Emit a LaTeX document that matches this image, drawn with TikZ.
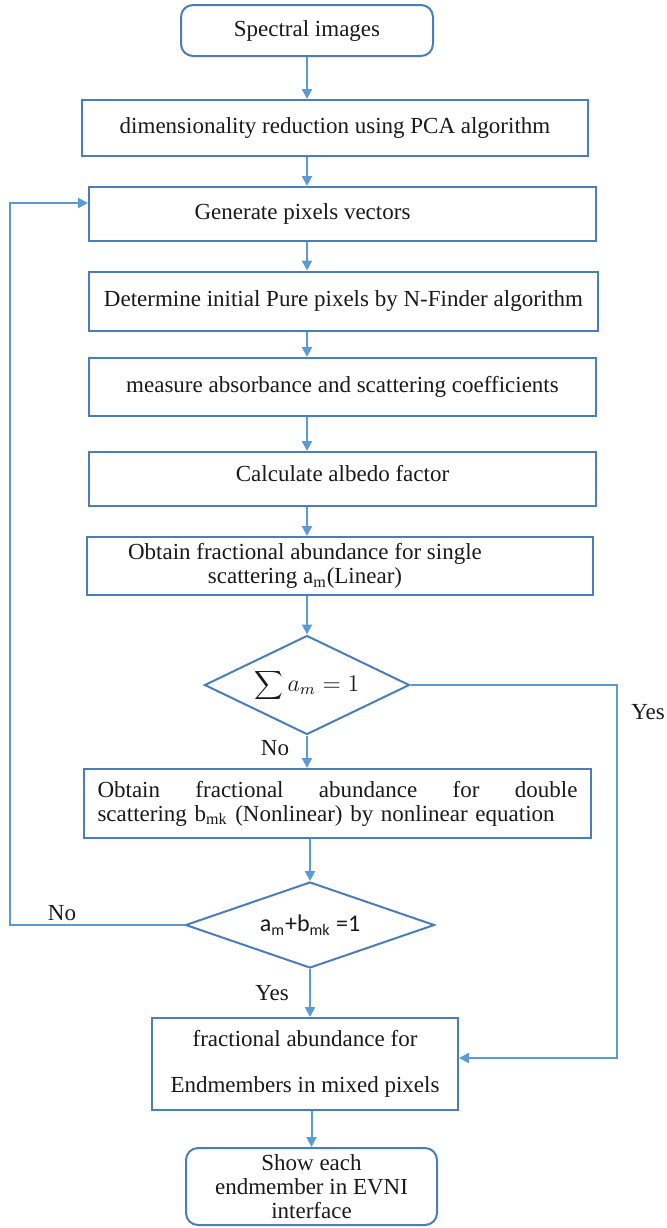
\documentclass[tikz,border=0pt]{standalone}
\usepackage{fontspec}
\setmainfont{Liberation Serif}
\newfontfamily\timesfont{Liberation Serif}
\newfontfamily\calibri{Carlito}
\usetikzlibrary{arrows.meta,shapes.geometric}
\definecolor{FlowLine}{HTML}{5B9BD5}
\definecolor{FlowEdge}{HTML}{4A7EBB}
\definecolor{FlowInk}{HTML}{1A1A1A}
\tikzset{
  every node/.style={font=\timesfont\fontsize{11.5}{12}\selectfont, text=FlowInk},
  procbox/.style={draw=FlowEdge, line width=1pt, fill=white, align=center, inner sep=2pt},
  termbox/.style={procbox, rounded corners=6pt},
  decision/.style={diamond, draw=FlowEdge, line width=1pt, fill=white, inner sep=0pt, aspect=2},
  flow/.style={-{Triangle[length=5pt,width=5pt]}, draw=FlowLine, line width=1pt},
  branch/.style={font=\timesfont\fontsize{11.5}{12}\selectfont},
}
\begin{document}
\begin{tikzpicture}[x=0.5pt,y=-0.5pt]
  \useasboundingbox (0,0) rectangle (667,1228);
  % main column
  \node[termbox, minimum width=126pt, minimum height=25.5pt] (spec) at (307,30.5) {Spectral images};
  \node[procbox, minimum width=253pt, minimum height=28pt] (pca) at (335,128) {dimensionality reduction using PCA algorithm};
  \node[procbox, minimum width=253.5pt, minimum height=27pt] (gen) at (342.5,214) {\hspace*{-40pt}Generate pixels vectors};
  \node[procbox, minimum width=254.5pt, minimum height=29.5pt] (nfind) at (343.5,301) {Determine initial Pure pixels by N-Finder algorithm};
  \node[procbox, minimum width=253.5pt, minimum height=29pt] (meas) at (342.5,387) {measure absorbance and scattering coefficients};
  \node[procbox, minimum width=253.5pt, minimum height=27pt] (albedo) at (342.5,479) {\raisebox{6pt}{Calculate albedo factor}};
  \node[procbox, minimum width=253pt, minimum height=29pt] (single) at (340,566)
    {\hspace*{-35pt}Obtain fractional abundance for single\\\hspace*{-35pt}scattering a\textsubscript{m}(Linear)};
  \node[decision, minimum width=102.5pt, minimum height=49.5pt] (sum) at (307,685)
    {\fontsize{12}{13}\selectfont$\displaystyle\sum a_m = 1$};
  \node[procbox, minimum width=253.5pt, minimum height=34.5pt, text width=240pt, align=left] (double) at (337.5,803.5)
    {Obtain\hfill fractional\hfill abundance\hfill for\hfill double\\scattering b\textsubscript{mk} (Nonlinear) by nonlinear equation};
  \node[decision, minimum width=124.5pt, minimum height=43pt] (check) at (310,925)
    {\calibri\fontsize{12}{13}\selectfont a\textsubscript{m}+b\textsubscript{mk} =1};
  \node[procbox, minimum width=153pt, minimum height=46pt] (res) at (305,1064)
    {fractional abundance for\\[11pt]Endmembers in mixed pixels};
  \node[termbox, minimum width=125.5pt, minimum height=38.5pt] (show) at (311.5,1186.5)
    {Show each\\endmember in EVNI\\interface};
  % corners of the side paths
  \coordinate (yesturn) at (617,685);
  \coordinate (noturn) at (10,925);
  % arrows down the column
  \draw[flow] (spec.south) -- (spec.south |- pca.north);
  \foreach \a/\b in {pca/gen,gen/nfind,nfind/meas,meas/albedo,albedo/single}
    \draw[flow] (\a.south -| spec.south) -- (\b.north -| spec.south);
  \draw[flow] (single.south -| sum.north) -- (sum.north);
  \draw[flow] (sum.south) -- (sum.south |- double.north);
  \draw[flow] (double.south -| check.north) -- (check.north);
  \draw[flow] (check.south) -- (check.south |- res.north);
  \draw[flow] (res.south -| show.north) -- (show.north);
  % side paths
  \draw[flow] (sum.east) -- (yesturn) -- ([yshift=3pt]yesturn |- res.east) -- ([yshift=3pt]res.east);
  \draw[flow] (check.west) -- (noturn) -- ([yshift=5.5pt]noturn |- gen.west) -- ([yshift=5.5pt]gen.west);
  % branch labels
  \node[branch] (yesA) at (648,712) {Yes};
  \node[branch] (noA) at (275,748) {No};
  \node[branch] (noB) at (62,913) {No};
  \node[branch] (yesB) at (272,993) {Yes};
\end{tikzpicture}
\end{document}
